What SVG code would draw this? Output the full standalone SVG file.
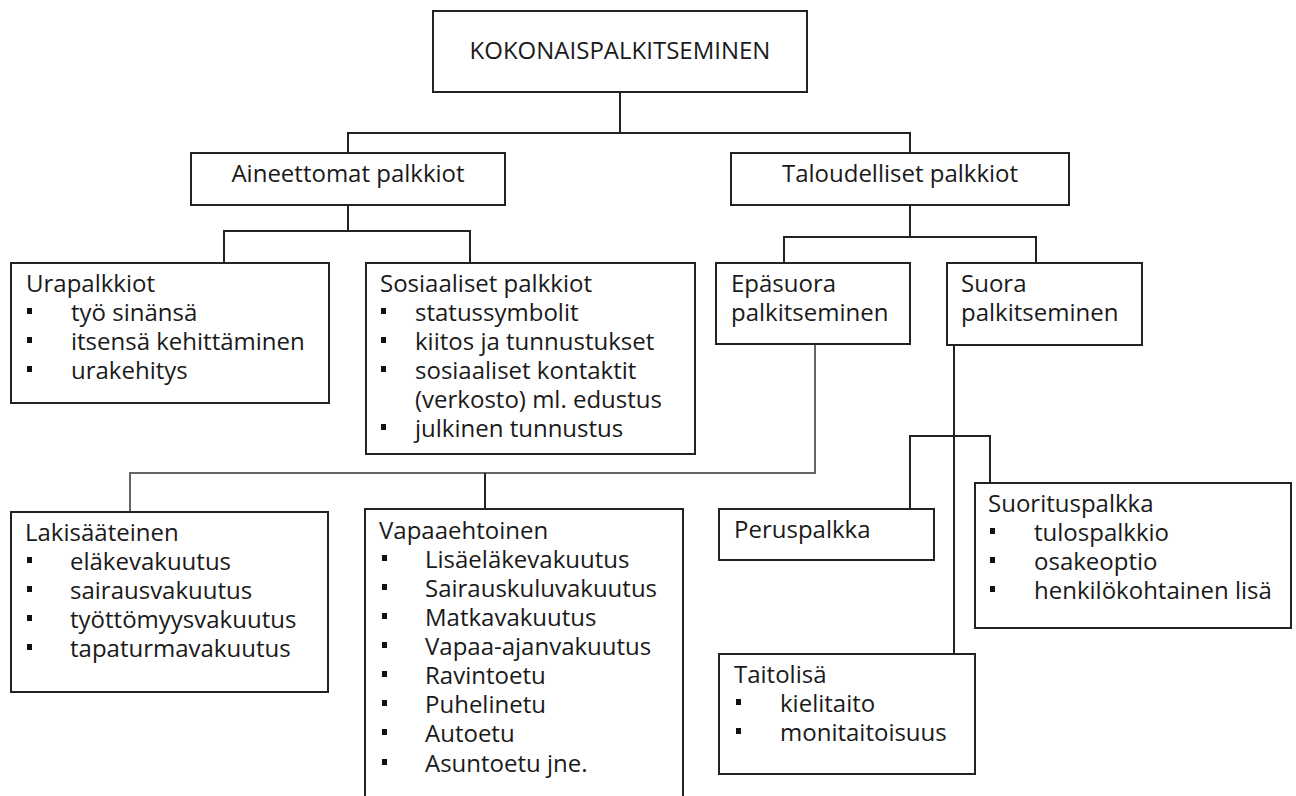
<svg xmlns="http://www.w3.org/2000/svg" width="1296" height="796" viewBox="0 0 1296 796">
<style>
.box{fill:#fff;stroke:#222;stroke-width:2}
.t{font-family:"Open Sans","Noto Sans","DejaVu Sans",sans-serif;font-size:24px;fill:#1a1a1a}
.c{text-anchor:middle}
.ln{fill:none;stroke:#222;stroke-width:2}
.lg{fill:none;stroke:#666;stroke-width:2}
.b{fill:#111}
</style>
<rect width="1296" height="796" fill="#fff"/>
<g id="connectors">
<polyline class="ln" points="620,92 620,133"/>
<polyline class="ln" points="348,153 348,133 910,133 910,153"/>
<polyline class="ln" points="348,205 348,231"/>
<polyline class="ln" points="224,263 224,231 470,231 470,263"/>
<polyline class="ln" points="910,205 910,237"/>
<polyline class="ln" points="784,263 784,237 1036,237 1036,263"/>
<polyline class="lg" points="815,344 815,473 130,473 130,512"/>
<polyline class="ln" points="485,473 485,509"/>
<polyline class="ln" points="954,345 954,654"/>
<polyline class="ln" points="910,509 910,436 990,436 990,483"/>
</g>
<g id="n-root">
<rect class="box" x="433" y="11" width="374" height="81"/>
<text class="t c" x="620" y="59">KOKONAISPALKITSEMINEN</text>
</g>
<g id="n-aineettomat">
<rect class="box" x="191" y="153" width="314" height="52"/>
<text class="t c" x="348" y="182">Aineettomat palkkiot</text>
</g>
<g id="n-taloudelliset">
<rect class="box" x="731" y="153" width="338" height="52"/>
<text class="t c" x="900" y="182">Taloudelliset palkkiot</text>
</g>
<g id="n-urapalkkiot">
<rect class="box" x="11" y="263" width="318" height="140"/>
<text class="t" x="26" y="292">Urapalkkiot</text>
<rect class="b" x="27" y="308" width="5" height="6"/>
<text class="t" x="71" y="321">työ sinänsä</text>
<rect class="b" x="27" y="337" width="5" height="6"/>
<text class="t" x="71" y="350">itsensä kehittäminen</text>
<rect class="b" x="27" y="366" width="5" height="6"/>
<text class="t" x="71" y="379">urakehitys</text>
</g>
<g id="n-sosiaaliset">
<rect class="box" x="366" y="263" width="329" height="191"/>
<text class="t" x="380" y="292">Sosiaaliset palkkiot</text>
<rect class="b" x="381" y="308" width="5" height="6"/>
<text class="t" x="415" y="321">statussymbolit</text>
<rect class="b" x="381" y="337" width="5" height="6"/>
<text class="t" x="415" y="350">kiitos ja tunnustukset</text>
<rect class="b" x="381" y="366" width="5" height="6"/>
<text class="t" x="415" y="379">sosiaaliset kontaktit</text>
<text class="t" x="415" y="408">(verkosto) ml. edustus</text>
<rect class="b" x="381" y="424" width="5" height="6"/>
<text class="t" x="415" y="437">julkinen tunnustus</text>
</g>
<g id="n-epasuora">
<rect class="box" x="716" y="263" width="194" height="81"/>
<text class="t" x="731" y="292">Epäsuora</text>
<text class="t" x="731" y="321">palkitseminen</text>
</g>
<g id="n-suora">
<rect class="box" x="947" y="263" width="195" height="82"/>
<text class="t" x="961" y="292">Suora</text>
<text class="t" x="961" y="321">palkitseminen</text>
</g>
<g id="n-lakisaateinen">
<rect class="box" x="11" y="512" width="317" height="180"/>
<text class="t" x="25" y="541">Lakisääteinen</text>
<rect class="b" x="27" y="557" width="5" height="6"/>
<text class="t" x="70" y="570">eläkevakuutus</text>
<rect class="b" x="27" y="586" width="5" height="6"/>
<text class="t" x="70" y="599">sairausvakuutus</text>
<rect class="b" x="27" y="615" width="5" height="6"/>
<text class="t" x="70" y="628">työttömyysvakuutus</text>
<rect class="b" x="27" y="644" width="5" height="6"/>
<text class="t" x="70" y="657">tapaturmavakuutus</text>
</g>
<g id="n-vapaaehtoinen">
<rect class="box" x="365" y="509" width="318" height="300"/>
<text class="t" x="379" y="539">Vapaaehtoinen</text>
<rect class="b" x="382" y="555" width="5" height="6"/>
<text class="t" x="425" y="568">Lisäeläkevakuutus</text>
<rect class="b" x="382" y="584" width="5" height="6"/>
<text class="t" x="425" y="597">Sairauskuluvakuutus</text>
<rect class="b" x="382" y="613" width="5" height="6"/>
<text class="t" x="425" y="626">Matkavakuutus</text>
<rect class="b" x="382" y="642" width="5" height="6"/>
<text class="t" x="425" y="655">Vapaa-ajanvakuutus</text>
<rect class="b" x="382" y="671" width="5" height="6"/>
<text class="t" x="425" y="684">Ravintoetu</text>
<rect class="b" x="382" y="700" width="5" height="6"/>
<text class="t" x="425" y="713">Puhelinetu</text>
<rect class="b" x="382" y="729" width="5" height="6"/>
<text class="t" x="425" y="742">Autoetu</text>
<rect class="b" x="382" y="759" width="5" height="6"/>
<text class="t" x="425" y="772">Asuntoetu jne.</text>
</g>
<g id="n-peruspalkka">
<rect class="box" x="719" y="509" width="215" height="51"/>
<text class="t" x="734" y="538">Peruspalkka</text>
</g>
<g id="n-suorituspalkka">
<rect class="box" x="975" y="483" width="316" height="145"/>
<text class="t" x="988" y="512">Suorituspalkka</text>
<rect class="b" x="990" y="528" width="5" height="6"/>
<text class="t" x="1034" y="541">tulospalkkio</text>
<rect class="b" x="990" y="557" width="5" height="6"/>
<text class="t" x="1034" y="570">osakeoptio</text>
<rect class="b" x="990" y="586" width="5" height="6"/>
<text class="t" x="1034" y="599">henkilökohtainen lisä</text>
</g>
<g id="n-taitolisa">
<rect class="box" x="719" y="654" width="256" height="120"/>
<text class="t" x="734" y="683">Taitolisä</text>
<rect class="b" x="736" y="699" width="5" height="6"/>
<text class="t" x="780" y="712">kielitaito</text>
<rect class="b" x="736" y="728" width="5" height="6"/>
<text class="t" x="780" y="741">monitaitoisuus</text>
</g>
</svg>
